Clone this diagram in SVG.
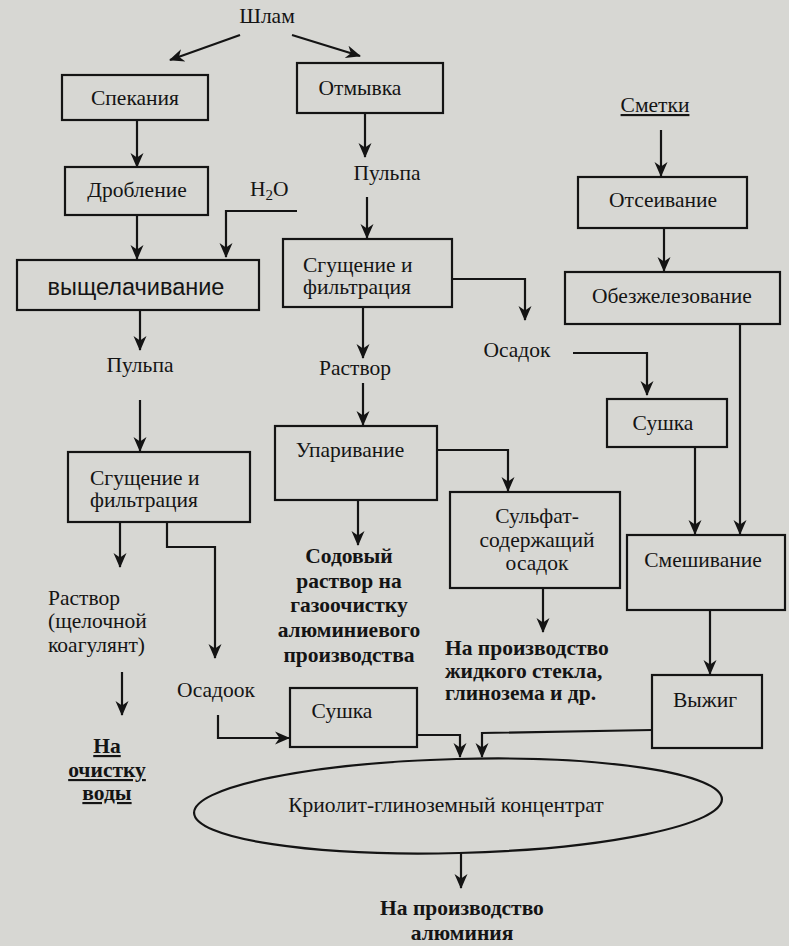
<svg xmlns="http://www.w3.org/2000/svg" width="789" height="946" viewBox="0 0 789 946">
<style>
.bx{fill:none;stroke:#141414;stroke-width:2.2}
.t{font-family:"Liberation Serif","Times New Roman",serif;font-size:21.5px;fill:#141414}
.b{font-family:"Liberation Serif","Times New Roman",serif;font-size:21.5px;font-weight:bold;fill:#141414}
.s{font-family:"Liberation Sans",Arial,sans-serif;font-size:23.5px;fill:#141414}
.c{text-anchor:middle}
.ln{fill:none;stroke:#141414;stroke-width:2.2}
.a{marker-end:url(#ah)}
</style>
<defs>
<marker id="ah" markerWidth="16" markerHeight="16" refX="14" refY="8" orient="auto" markerUnits="userSpaceOnUse">
<path d="M0,1.5 L15,8 L0,14.5 L4.5,8 z" fill="#141414"/>
</marker>
</defs>
<rect width="789" height="946" fill="#d7d7d3"/>

<g id="shlam"><text class="t c" x="267" y="23">Шлам</text></g>
<g id="spekaniya"><rect class="bx" x="62" y="75" width="146" height="45"/><text class="t c" x="135" y="105">Спекания</text></g>
<g id="droblenie"><rect class="bx" x="65" y="167" width="143" height="48"/><text class="t c" x="137" y="197">Дробление</text></g>
<g id="h2o"><text class="t" x="250" y="196">H<tspan font-size="15" dy="4">2</tspan><tspan dy="-4">O</tspan></text></g>
<g id="vyshchelachivanie"><rect class="bx" x="17" y="260" width="242" height="50"/><text class="s c" x="136" y="295">выщелачивание</text></g>
<g id="pulpa1"><text class="t c" x="140" y="372">Пульпа</text></g>
<g id="sgushchenie1"><rect class="bx" x="68" y="452" width="182" height="70"/><text class="t" x="90" y="485">Сгущение и</text><text class="t" x="90" y="507">фильтрация</text></g>
<g id="rastvor1"><text class="t" x="48" y="605">Раствор</text><text class="t" x="48" y="628">(щелочной</text><text class="t" x="48" y="652">коагулянт)</text></g>
<g id="ochistka"><text class="b c" x="107" y="753" text-decoration="underline">На</text><text class="b c" x="107" y="777" text-decoration="underline">очистку</text><text class="b c" x="107" y="800" text-decoration="underline">воды</text></g>
<g id="osadook"><text class="t c" x="216" y="697">Осадоок</text></g>
<g id="sushka2"><rect class="bx" x="290" y="688" width="127" height="59"/><text class="t c" x="342" y="718">Сушка</text></g>

<g id="otmyvka"><rect class="bx" x="297" y="63" width="146" height="50"/><text class="t c" x="360" y="95">Отмывка</text></g>
<g id="pulpa2"><text class="t c" x="387" y="180">Пульпа</text></g>
<g id="sgushchenie2"><rect class="bx" x="283" y="239" width="169" height="68"/><text class="t" x="303" y="272">Сгущение и</text><text class="t" x="303" y="294">фильтрация</text></g>
<g id="rastvor2"><text class="t c" x="355" y="375">Раствор</text></g>
<g id="uparivanie"><rect class="bx" x="275" y="426" width="162" height="74"/><text class="t c" x="350" y="457">Упаривание</text></g>
<g id="sodovyi"><text class="b c" x="349" y="563">Содовый</text><text class="b c" x="349" y="588">раствор на</text><text class="b c" x="349" y="612">газоочистку</text><text class="b c" x="349" y="637">алюминиевого</text><text class="b c" x="349" y="662">производства</text></g>
<g id="osadok1"><text class="t c" x="517" y="357">Осадок</text></g>
<g id="sulfat"><rect class="bx" x="450" y="492" width="170" height="96"/><text class="t c" x="537" y="523">Сульфат-</text><text class="t c" x="537" y="547">содержащий</text><text class="t c" x="537" y="570">осадок</text></g>
<g id="steklo"><text class="b" x="445" y="655">На производство</text><text class="b" x="445" y="678">жидкого стекла,</text><text class="b" x="445" y="700">глинозема и др.</text></g>

<g id="smetki"><text class="t c" x="655" y="112" text-decoration="underline">Сметки</text></g>
<g id="otseivanie"><rect class="bx" x="578" y="177" width="169" height="51"/><text class="t c" x="663" y="207">Отсеивание</text></g>
<g id="obezzhelezovanie"><rect class="bx" x="565" y="272" width="215" height="52"/><text class="t c" x="672" y="303">Обезжелезование</text></g>
<g id="sushka1"><rect class="bx" x="607" y="399" width="120" height="48"/><text class="t c" x="663" y="430">Сушка</text></g>
<g id="smeshivanie"><rect class="bx" x="627" y="535" width="158" height="75"/><text class="t c" x="703" y="567">Смешивание</text></g>
<g id="vyzhig"><rect class="bx" x="652" y="675" width="110" height="73"/><text class="t c" x="705" y="707">Выжиг</text></g>

<g id="konc"><ellipse class="bx" cx="458" cy="806" rx="264" ry="47" transform="rotate(-1.5 458 806)"/><text class="t c" x="446" y="812">Криолит-глиноземный концентрат</text></g>
<g id="alum"><text class="b c" x="462" y="915">На производство</text><text class="b c" x="462" y="940">алюминия</text></g>

<g id="connectors">
<path class="ln a" d="M240,35 L170,60"/>
<path class="ln a" d="M292,35 L360,56"/>
<path class="ln a" d="M137,120 L137,167"/>
<path class="ln a" d="M137,215 L137,259"/>
<path class="ln a" d="M297,211 L226,211 L226,257"/>
<path class="ln a" d="M140,310 L140,350"/>
<path class="ln a" d="M140,400 L140,451"/>
<path class="ln a" d="M120,522 L120,567"/>
<path class="ln a" d="M122,672 L122,715"/>
<path class="ln a" d="M167,522 L167,547 L215,547 L215,658"/>
<path class="ln a" d="M218,715 L218,738 L289,738"/>
<path class="ln a" d="M365,113 L365,157"/>
<path class="ln a" d="M367,197 L367,238"/>
<path class="ln a" d="M452,279 L525,279 L525,320"/>
<path class="ln a" d="M363,307 L363,358"/>
<path class="ln a" d="M363,383 L363,425"/>
<path class="ln a" d="M358,500 L358,545"/>
<path class="ln a" d="M437,450 L508,450 L508,491"/>
<path class="ln a" d="M543,588 L543,632"/>
<path class="ln a" d="M573,353 L647,353 L647,395"/>
<path class="ln a" d="M661,130 L661,176"/>
<path class="ln a" d="M664,228 L664,271"/>
<path class="ln a" d="M740,324 L740,534"/>
<path class="ln a" d="M695,447 L695,534"/>
<path class="ln a" d="M710,610 L710,674"/>
<path class="ln a" d="M652,730 L482,733 L482,757"/>
<path class="ln a" d="M417,735 L460,735 L460,757"/>
<path class="ln a" d="M461,852 L461,888"/>
</g>
</svg>
